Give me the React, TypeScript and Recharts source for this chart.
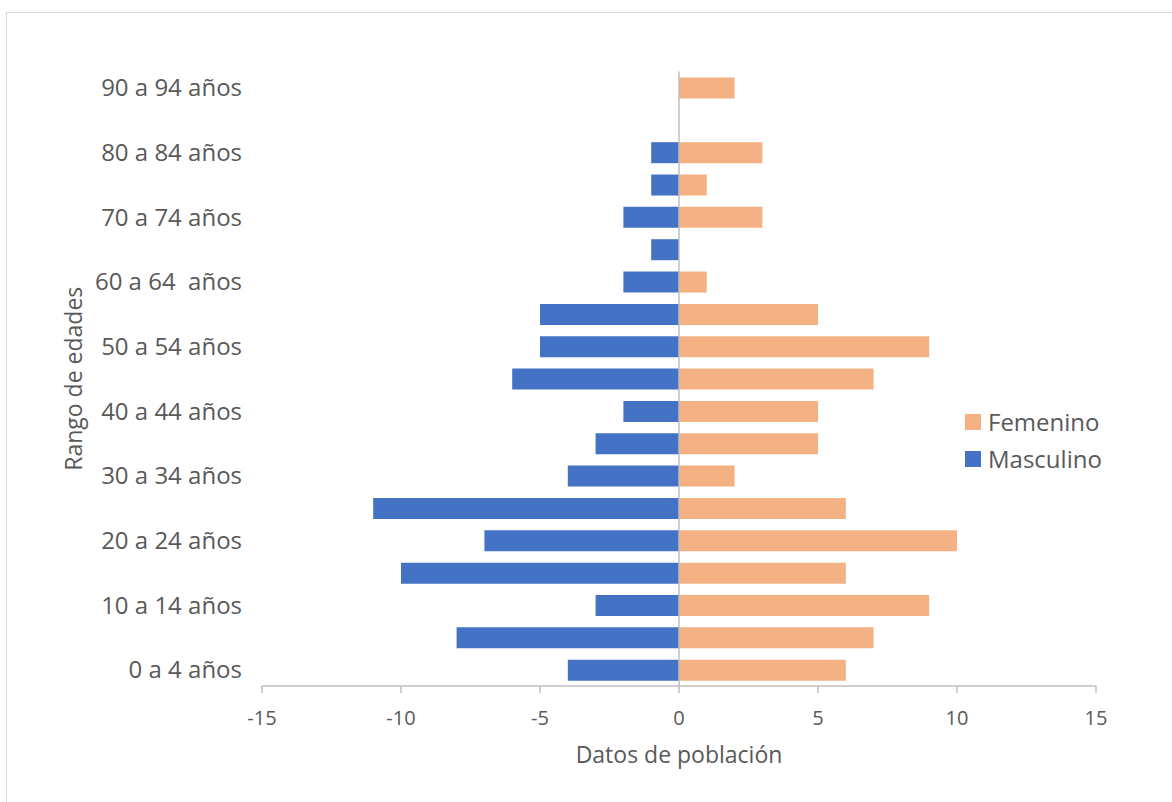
import React from "react";
import { BarChart, Bar, XAxis, YAxis, Legend, ReferenceLine } from "recharts";

// Age groups, bottom to top
const rangos = [
  "0 a 4 años",
  "5 a 9 años",
  "10 a 14 años",
  "15 a 19 años",
  "20 a 24 años",
  "25 a 29 años",
  "30 a 34 años",
  "35 a 39 años",
  "40 a 44 años",
  "45 a 49 años",
  "50 a 54 años",
  "55 a 59 años",
  "60 a 64  años",
  "65 a 69 años",
  "70 a 74 años",
  "75 a 79 años",
  "80 a 84 años",
  "85 a 89 años",
  "90 a 94 años",
];

// Men are stored as negatives so they extend to the left
const masculino = [-4, -8, -3, -10, -7, -11, -4, -3, -2, -6, -5, -5, -2, -1, -2, -1, -1, 0, 0];
const femenino = [6, 7, 9, 6, 10, 6, 2, 5, 5, 7, 9, 5, 1, 0, 3, 1, 3, 0, 2];

const xTicks = [-15, -10, -5, 0, 5, 10, 15];

const AZUL = "#4472C4";
const NARANJA = "#F4B183";
const TEXTO = "#595959";
const EJE = "#BFBFBF";

const data = rangos.map((rango, i) => ({
  rango,
  Masculino: masculino[i],
  Femenino: femenino[i],
}));

// keeps the double space in "60 a 64  años"
const RangoTick = ({ x, y, payload }: any) => (
  <text
    x={x}
    y={y}
    dy="0.36em"
    textAnchor="end"
    fill={TEXTO}
    fontSize={24}
    xmlSpace="preserve"
    style={{ whiteSpace: "pre" }}
  >
    {payload.value}
  </text>
);

const Leyenda = ({ payload }: any) => (
  <div>
    {(payload || []).map((item: any) => (
      <div
        key={item.value}
        style={{ display: "flex", alignItems: "center", height: 37 }}
      >
        <span
          style={{
            display: "inline-block",
            width: 16,
            height: 16,
            background: item.color,
            marginRight: 7,
          }}
        />
        <span style={{ fontSize: 24, color: TEXTO }}>{item.value}</span>
      </div>
    ))}
  </div>
);

export default function App() {
  return (
    <div
      style={{
        position: "absolute",
        left: 6,
        top: 12,
        width: 1166,
        height: 790,
        borderLeft: "1px solid #D9D9D9",
        borderTop: "1px solid #D9D9D9",
        background: "#fff",
        fontFamily: "'Open Sans', sans-serif",
      }}
    >
      <BarChart
        width={1165}
        height={789}
        data={data}
        layout="vertical"
        stackOffset="sign"
        margin={{ top: 58.5, right: 76, bottom: 56, left: 55 }}
      >
        <XAxis
          type="number"
          domain={[-15, 15]}
          ticks={xTicks}
          allowDataOverflow
          stroke={EJE}
          strokeWidth={1.5}
          tickSize={7}
          tickMargin={18}
          tick={{ fill: TEXTO, fontSize: 20 }}
          height={60}
          label={{
            value: "Datos de población",
            position: "bottom",
            offset: 1,
            fill: TEXTO,
            fontSize: 23,
          }}
        />
        <YAxis
          type="category"
          dataKey="rango"
          reversed
          interval={1}
          width={200}
          axisLine={false}
          tickLine={false}
          tickSize={0}
          tickMargin={20}
          tick={<RangoTick />}
          label={{
            value: "Rango de edades",
            angle: -90,
            position: "insideLeft",
            offset: 12,
            fill: TEXTO,
            fontSize: 23,
            style: { textAnchor: "middle" },
          }}
        />
        <Legend
          layout="horizontal"
          align="center"
          verticalAlign="middle"
          content={<Leyenda />}
          wrapperStyle={{ left: 958, top: 390, width: 200 }}
        />
        <Bar
          dataKey="Masculino"
          stackId="p"
          fill={AZUL}
          barSize={21}
          isAnimationActive={false}
        />
        <Bar
          dataKey="Femenino"
          stackId="p"
          fill={NARANJA}
          barSize={21}
          isAnimationActive={false}
        />
        <ReferenceLine x={0} stroke={EJE} strokeWidth={1.5} />
      </BarChart>
    </div>
  );
}
